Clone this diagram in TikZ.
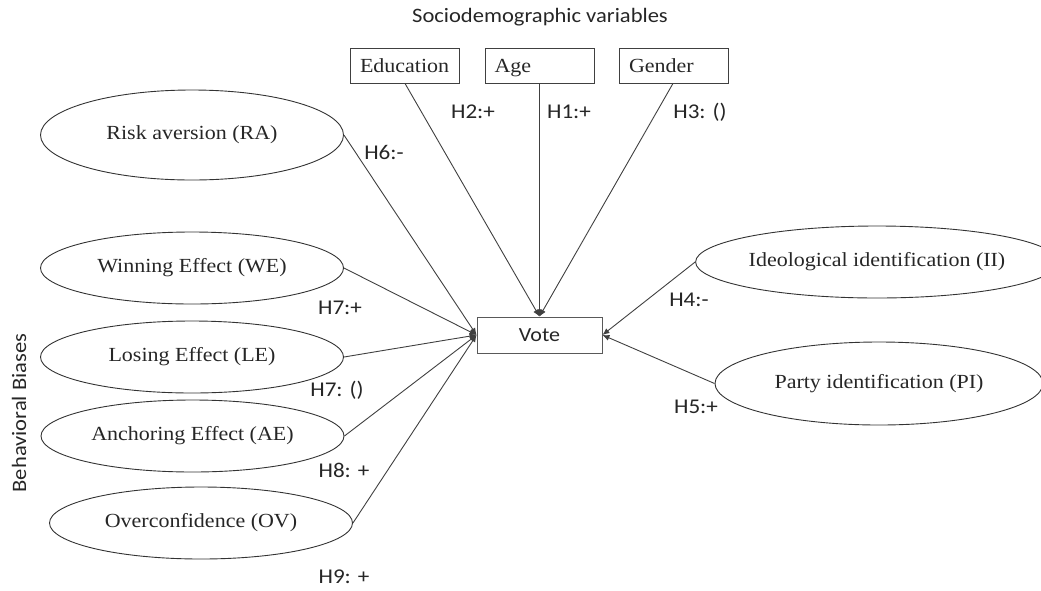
\documentclass[tikz,border=0pt]{standalone}
\usepackage{fontspec}
\setmainfont{Liberation Serif}[FakeStretch=1.1]
\setsansfont{Carlito}[FakeStretch=1.1]
\usetikzlibrary{shapes.geometric,arrows.meta}
\begin{document}
\begin{tikzpicture}[x=1pt,y=-1pt,
  every node/.style={text=black!85},
  oval/.style={draw=black!80,ellipse,line width=0.9pt,minimum width=303pt,minimum height=72pt,inner sep=0pt,font=\fontsize{20}{24}\selectfont},
  varbox/.style={draw=black!75,rectangle,line width=0.9pt,minimum height=35pt,text width=90pt,inner xsep=9.5pt,align=left,text height=16pt,text depth=2pt,font=\fontsize{20}{24}\selectfont},
  votebox/.style={draw=black!65,rectangle,line width=0.9pt,minimum width=125pt,minimum height=36pt,font=\sffamily\fontsize{20}{24}\selectfont},
  hyp/.style={font=\sffamily\fontsize{21}{24}\selectfont,inner sep=1pt},
  link/.style={draw=black!75,line width=0.9pt,-{Latex[length=7pt,width=6pt]}}
]
\useasboundingbox (0,0) rectangle (1041,590);
% title
\node[font=\sffamily\fontsize{20.5}{24}\selectfont] (title) at (540,17) {Sociodemographic variables};
% boxes
\node[varbox] (edu) at (405,65.5) {Education};
\node[varbox] (age) at (539.5,65.5) {Age};
\node[varbox] (gen) at (674,65.5) {Gender};
\node[votebox] (vote) at (539.5,335) {Vote};
% ellipses
\node[oval,minimum height=90pt] (ra) at (192,135) {Risk aversion (RA)};
\node[oval] (we) at (192,268) {Winning Effect (WE)};
\node[oval] (le) at (192,357) {Losing Effect (LE)};
\node[oval] (ae) at (192.5,436) {Anchoring Effect (AE)};
\node[oval] (ov) at (201,523) {Overconfidence (OV)};
\node[oval,minimum width=328pt] (ii) at (877,262) {Ideological identification (II)};
\node[oval,minimum width=328pt,minimum height=83pt] (pi) at (879,383.5) {Party identification (PI)};
% side label
\node[font=\sffamily\fontsize{20.5}{24}\selectfont,rotate=90] (bb) at (19,413) {Behavioral Biases};
% connectors
\draw[link] (edu.south) -- (vote.north);
\draw[link] (age.south) -- (vote.north);
\draw[link] ([xshift=-1pt]gen.south) -- (vote.north);
\draw[link] (ra.east) -- (vote.west);
\draw[link] (we.east) -- (vote.west);
\draw[link] (le.east) -- (vote.west);
\draw[link] (ae.east) -- (vote.west);
\draw[link] (ov.east) -- (vote.west);
\draw[link] (ii.west) -- (vote.east);
\draw[link] (pi.west) -- (vote.east);
% labels
\node[hyp] (h2) at (473,112) {H2:+};
\node[hyp] (h1) at (569,112) {H1:+};
\node[hyp] (h3) at (700,112) {H3: ()};
\node[hyp] (h6) at (384,152) {H6:-};
\node[hyp] (h7a) at (340,308) {H7:+};
\node[hyp] (h7b) at (337,390) {H7: ()};
\node[hyp] (h8) at (344,470) {H8: +};
\node[hyp] (h9) at (344,577) {H9: +};
\node[hyp] (h4) at (689,300) {H4:-};
\node[hyp] (h5) at (696,407) {H5:+};
\end{tikzpicture}
\end{document}
